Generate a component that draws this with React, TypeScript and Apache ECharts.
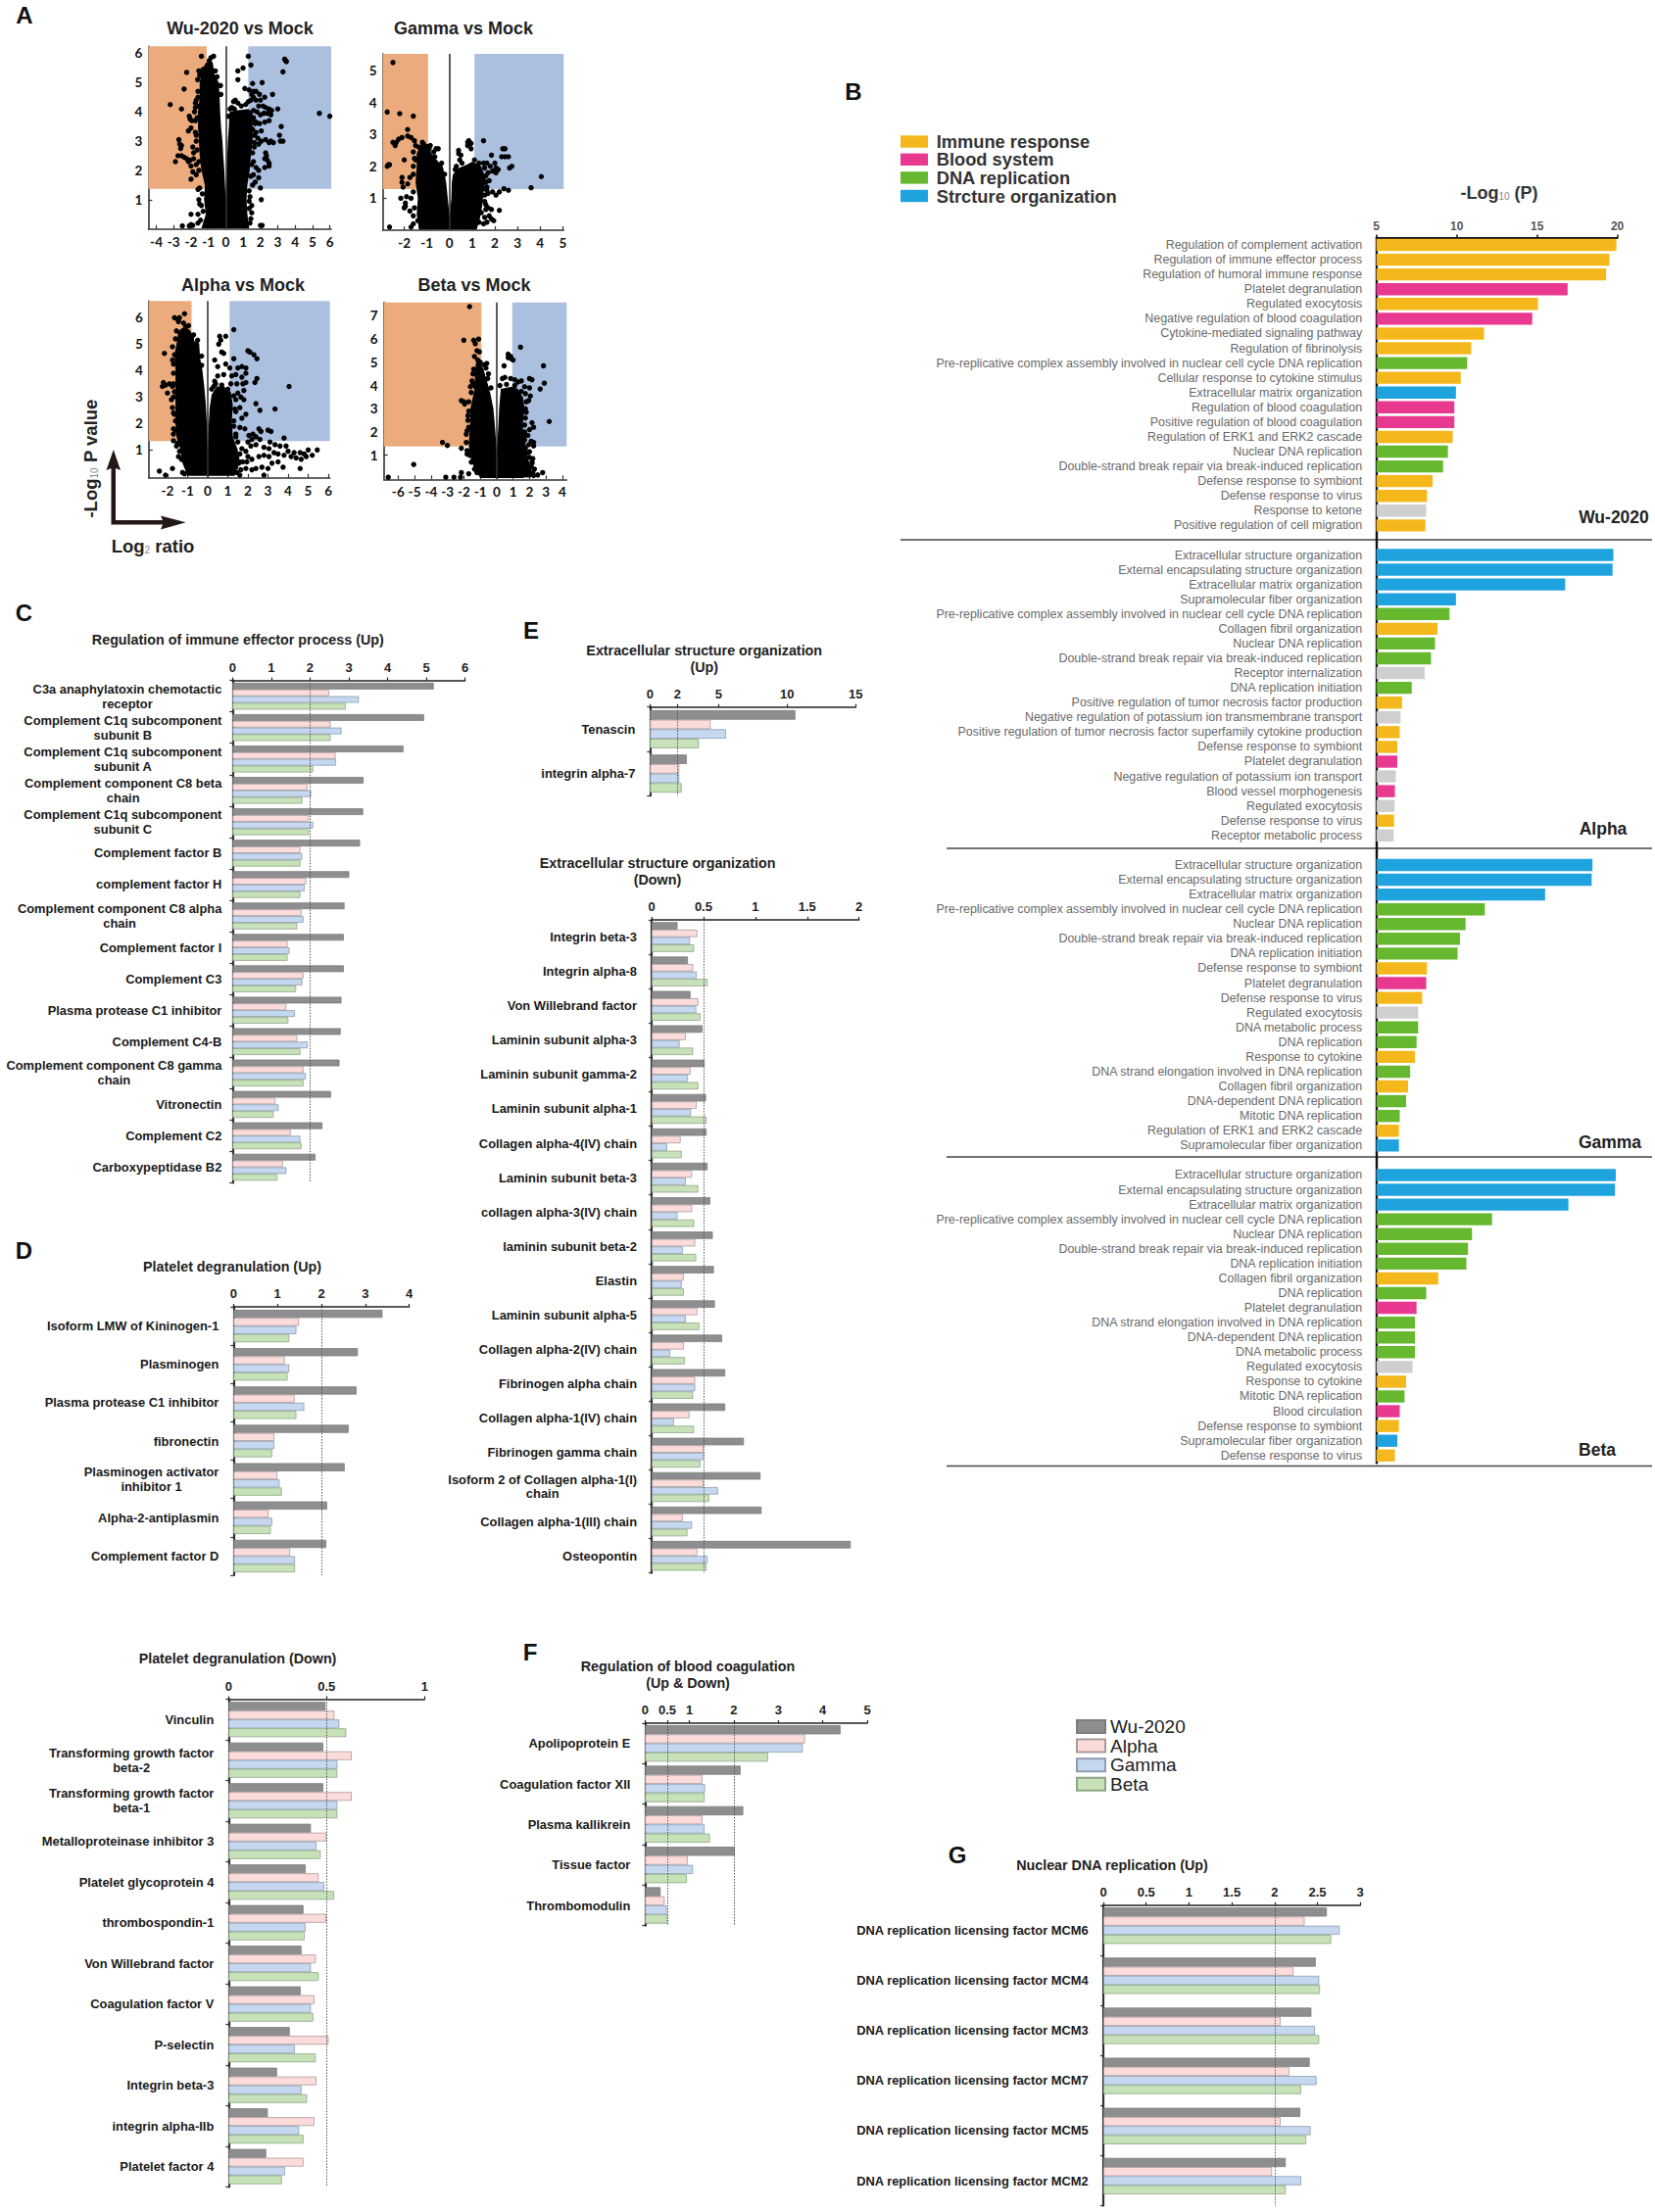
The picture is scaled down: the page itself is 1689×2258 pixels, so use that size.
import React, { useEffect, useRef } from "react";
import * as echarts from "echarts";

type Pt = [number, number];

// ---------- Panel A: dense saturated core outlines and individually read dots ----------
const wuCore: Pt[] = [[-1.4,0.02],[-1.15,0.5],[-1.25,1.0],[-1.2,1.5],[-1.4,2],[-1.5,2.5],[-1.55,3],[-1.6,3.5],[-1.6,4],[-1.5,4.5],[-1.5,5],[-1.35,5.5],[-1.0,5.75],[-0.75,5.7],[-0.65,5.3],[-0.4,5],[-0.35,4.5],[-0.32,4],[-0.27,3.5],[-0.19,3],[-0.14,2.5],[-0.08,2],[0,1],[0.03,1.5],[0.06,2],[0.12,3],[0.18,3.5],[0.22,4],[0.6,4.05],[1.3,4.1],[1.55,4.0],[1.55,3.4],[1.55,3],[1.45,2.5],[1.38,2],[1.25,1.5],[1.2,1],[1.25,0.5],[1.35,0.02]];
const wuRim: Pt[] = [[-1.35,1.2],[-1.3,0.6],[-1.55,2.3],[-1.65,2.7],[-1.7,3.2],[-1.75,3.7],[-1.75,4.3],[-1.6,4.7],[-1.62,5.1],[-1.5,5.25],[-0.6,5.4],[-0.5,5.2],[-0.3,4.9],[-0.28,4.6],[1.6,3.8],[1.7,3.6],[1.65,3.2],[1.65,2.8],[1.55,2.6],[1.5,2.2],[1.45,1.8],[1.35,1.3],[1.35,0.95],[1.35,0.7],[1.4,0.2],[0.35,4.15],[0.5,4.1],[0.9,4.2],[1.15,4.25],[0.15,3.85],[0.25,4.1]];
const wuDots: Pt[] = [[3.4,5.8],[3.45,5.75],[3.5,5.72],[3.3,5.37],[5.4,3.95],[6.0,3.85],[-3.2,4.25],[-2.55,4.1],[-2.25,5.35],[-2.4,4.78],[-1.4,5.9],[-0.7,5.9],[1.3,5.9],[1.45,5.6],[0.7,5.4],[1.0,5.5],[0.7,5.1],[1.55,4.97],[2.1,5.0],[2.7,4.6],[3.0,4.1],[3.2,3.5],[3.15,3.0],[3.3,3.0],[3.1,3.2],[2.75,2.95],[2.6,3.0],[0.45,4.35],[0.55,4.4],[0.7,4.3],
[1.1,4.8],[1.35,4.75],[1.5,4.6],[1.6,4.7],[1.75,4.7],[1.95,4.6],[1.6,4.5],[1.75,4.4],[2.0,4.4],[2.25,4.5],[1.45,4.4],[1.3,4.35],[1.9,4.2],[2.15,4.2],[2.3,4.15],[2.5,4.1],[2.65,4.05],[2.6,3.9],[2.4,3.95],[2.2,3.95],[2.0,3.9],[1.8,4.0],[1.6,4.05],[2.5,3.7],[2.25,3.65],[1.95,3.6],[1.75,3.65],[1.55,3.75],[2.05,3.35],[1.75,3.3],[1.55,3.4],[1.85,3.1],[2.05,3.0],[1.9,2.9],[1.65,2.95],[2.5,2.95],[2.3,3.05],
[2.3,2.6],[2.35,2.5],[2.4,2.35],[2.25,2.4],[2.5,2.25],[2.5,2.15],[2.25,2.1],[1.9,2.0],[1.75,2.1],[1.6,2.3],[1.6,1.85],[1.9,1.75],[1.7,1.6],[1.55,1.5],[2.0,1.4],[2.05,1.0],[1.4,1.1],[1.5,0.8],[1.5,0.55],[2.0,0.12],[2.1,0.12],[1.45,0.35],
[-1.55,5.4],[-1.45,5.3],[-1.3,5.45],[-1.6,4.5],[-1.7,4.4],[-1.55,4.2],[-1.75,4.15],[-1.8,4.0],[-1.65,3.8],[-2.1,3.85],[-2.05,3.75],[-1.95,3.7],[-2.0,3.45],[-2.15,3.35],[-1.75,3.3],[-2.7,3.05],[-2.65,2.9],[-2.6,2.75],[-2.55,2.85],[-1.7,3.0],[-1.9,2.8],[-1.85,2.6],[-2.9,2.3],[-2.75,2.5],[-2.55,2.5],[-2.4,2.45],[-2.25,2.4],[-2.15,2.3],[-2.05,2.35],[-2.0,2.15],[-1.85,2.4],[-1.7,2.2],[-1.9,1.95],[-1.7,1.85],[-1.55,2.0],[-2.0,1.7],[-1.6,1.35],[-1.5,1.4],[-1.55,1.0],[-1.5,0.85],[-1.4,0.8],[-1.6,0.5],[-2.0,0.5],[-1.45,0.3],[-1.6,0.2],[-2.5,0.1],[-2.1,0.1],[-2.0,0.15],[-1.9,0.12],[-1.05,5.6],[-0.95,5.75],[-0.85,5.85]];

const gammaCore: Pt[] = [[-1.35,0.02],[-1.45,0.5],[-1.4,1],[-1.5,1.5],[-1.45,2],[-1.45,2.4],[-1.25,2.7],[-0.95,2.7],[-0.8,2.4],[-0.5,2.15],[-0.3,2],[-0.15,1.5],[-0.08,1],[0,0.45],[0.08,1],[0.1,1.5],[0.15,1.75],[0.4,1.95],[0.75,2.05],[1.0,2.15],[1.4,2.0],[1.6,1.6],[1.5,1.2],[1.45,0.8],[1.35,0.4],[1.2,0.02]];
const gammaRim: Pt[] = [[-1.55,0.7],[-1.6,1.2],[-1.6,1.75],[-1.55,2.25],[-1.35,2.6],[-1.2,2.75],[-0.9,2.55],[-0.65,2.3],[-0.35,2.1],[-0.22,1.75],[0.25,1.9],[0.55,2.1],[1.1,2.2],[1.3,2.1],[1.55,1.95],[1.65,1.25],[1.55,1.1],[1.6,0.8],[1.4,0.55],[1.3,0.25],[-1.4,0.3],[-1.25,0.1],[0.3,2.0]];
const gammaDots: Pt[] = [[-2.5,5.25],[-2.75,3.7],[-2.2,3.65],[-1.6,3.57],[-1.85,3.15],[-2.1,2.9],[-2.25,2.85],[-1.85,2.95],[-1.7,2.9],[-2.35,2.75],[-2.5,2.75],[-2.4,2.65],[-1.55,2.8],[-1.5,2.65],[-1.15,2.7],[-0.85,2.65],[-0.6,2.55],[-0.5,2.55],[-0.7,2.45],[-2.65,2.05],[-2.7,2.05],[-2.75,2.0],[-2.0,2.2],[-1.6,2.45],[-1.5,2.2],[-1.6,2.0],[-2.1,1.65],[-2.1,1.5],[-1.75,1.65],[-1.85,1.45],[-2.05,1.35],[-2.15,1.0],[-1.9,1.05],[-1.7,1.0],[-1.95,0.75],[-2.0,0.7],[-1.75,0.6],[-1.6,0.45],[-1.95,0.85],[-1.6,0.2],[-2.65,0.1],[-1.7,0.1],
[0.4,2.5],[0.4,2.4],[0.45,2.2],[0.5,2.35],[0.85,2.8],[0.8,2.65],[0.95,2.55],[0.95,2.72],[0.8,2.75],[1.5,2.8],[1.85,2.35],[2.35,2.55],[2.45,2.55],[2.3,2.3],[2.45,2.3],[2.6,2.3],[2.75,2.0],[2.65,1.95],[1.5,2.1],[1.65,2.1],[1.8,2.0],[2.0,2.1],[2.05,1.95],[2.15,1.9],[2.05,1.8],[1.9,1.85],[1.7,1.8],[1.6,1.7],[1.6,1.5],[1.75,1.55],[1.5,1.3],[1.65,1.35],[1.7,1.15],[1.9,1.2],[2.05,1.1],[2.2,1.2],[2.4,1.3],[2.6,1.25],[3.6,1.33],[4.05,1.68],[2.2,0.62],[1.55,0.9],[1.6,0.65],[1.7,0.7],[1.85,0.65],[1.55,0.4],[1.75,0.45],[1.85,0.35],[1.95,0.3],[1.65,0.25],[1.5,0.2]];

const alphaCore: Pt[] = [[-1.0,0.02],[-1.3,0.6],[-1.35,1],[-1.55,1.5],[-1.6,2],[-1.6,3],[-1.6,4],[-1.65,4.6],[-1.55,5],[-1.45,5.5],[-1.1,5.65],[-0.85,5.5],[-0.65,5.1],[-0.42,5],[-0.38,4.5],[-0.26,4],[-0.17,3.4],[-0.1,2.8],[-0.04,2],[0,1],[0.04,1.8],[0.1,2.6],[0.2,3.1],[0.45,3.4],[0.8,3.4],[1.15,3.2],[1.25,2.7],[1.2,2.1],[1.25,1.5],[1.5,1.0],[1.5,0.6],[1.35,0.02]];
const alphaRim: Pt[] = [[-1.45,0.75],[-1.55,1.15],[-1.7,1.8],[-1.7,2.4],[-1.7,3],[-1.75,3.4],[-1.7,3.9],[-1.75,4.4],[-1.6,5.2],[-1.55,5.5],[-1.2,5.8],[-0.8,5.2],[-0.5,5.15],[-0.3,4.55],[-0.3,4.2],[0.2,3.3],[0.4,3.5],[0.7,3.45],[1.0,3.3],[1.3,3.05],[1.35,2.55],[1.3,1.9],[1.4,1.5],[1.6,0.85],[1.6,0.55],[1.45,0.15]];
const alphaDots: Pt[] = [[-1.65,6.0],[-1.5,5.95],[-1.4,6.0],[-1.15,6.15],[-1.45,5.85],[-1.1,5.65],[-0.95,5.7],[-1.35,5.4],[-1.25,5.5],[-0.7,5.35],[-0.55,5.0],[-2.15,4.65],[-1.75,4.9],[-1.65,4.6],[-1.7,4.25],[-2.2,3.55],[-2.25,3.4],[-2.1,3.45],[-1.9,3.5],[-2.0,3.15],[-1.7,3.5],[-1.65,3.2],[-1.8,2.9],[-1.75,2.6],[-1.65,2.35],[-1.6,2.1],[-1.6,1.75],[-1.7,1.6],[-1.7,1.35],[-1.5,1.25],[-1.4,0.95],[-1.3,0.65],[-2.4,0.2],[-2.1,0.05],[-1.75,0.3],[-1.25,0.15],[-1.15,0.1],[-0.95,0.2],
[0.6,5.3],[0.9,5.3],[0.65,5.15],[0.55,5.0],[0.7,4.7],[0.8,4.65],[0.35,4.4],[0.5,4.15],[0.9,4.25],[1.1,4.1],[1.3,5.55],[1.3,4.45],[2.0,4.75],[2.1,4.7],[2.3,4.6],[2.45,4.45],[1.5,4.1],[1.7,4.15],[1.9,4.1],[1.9,3.9],[1.7,3.75],[1.4,3.85],[1.2,3.8],[0.8,3.85],[0.5,3.8],[0.35,3.6],[0.3,3.4],[1.15,3.5],[1.45,3.5],[1.75,3.5],[1.9,3.55],[1.8,3.25],[1.5,3.15],[1.4,2.9],[1.65,3.0],[1.8,2.9],[1.6,2.6],[1.9,2.35],[1.7,2.2],[1.4,2.45],[1.3,2.1],[1.6,1.85],[1.85,1.8],[1.4,1.6],[2.35,3.55],[2.45,3.7],[2.4,2.75],[2.6,2.5],[3.35,2.55],[4.05,3.4],
[2.05,1.55],[2.25,1.6],[2.55,1.8],[2.65,1.7],[3.0,1.75],[3.15,1.7],[3.8,1.45],[2.2,1.4],[2.4,1.5],[2.0,1.3],[2.15,1.15],[2.4,1.2],[2.6,1.4],[3.1,1.3],[3.35,1.2],[3.6,1.15],[3.9,1.15],[4.0,0.95],[4.3,0.9],[4.6,0.9],[5.0,1.0],[5.45,1.0],[4.8,0.85],[5.2,0.8],[2.8,1.1],[3.05,1.05],[1.5,1.3],[1.7,1.05],[1.9,0.95],[2.0,0.75],[1.45,0.7],[1.55,0.5],[1.75,0.55],[1.95,0.55],[2.2,0.65],[2.55,0.75],[2.8,0.8],[3.05,0.75],[3.3,0.9],[3.5,0.85],[3.2,0.5],[3.5,0.55],[3.8,0.8],[4.15,0.75],[4.4,0.7],[4.65,0.65],[4.9,0.75],[4.6,0.3],[3.75,0.35],[3.0,0.3],[2.7,0.35],[2.4,0.3],[2.2,0.25],[1.9,0.3],[1.65,0.25],[1.4,0.35],[1.6,0.05],[2.8,0.05]];

const betaCore: Pt[] = [[-1.0,0.02],[-1.4,0.5],[-1.65,1],[-1.7,1.5],[-1.65,2],[-1.6,2.5],[-1.6,3],[-1.45,3.5],[-1.3,4],[-1.35,4.5],[-1.25,5],[-1,5.05],[-0.8,4.7],[-0.6,4.2],[-0.4,3.7],[-0.2,3],[-0.1,2.2],[0,1.2],[0.08,2],[0.15,3],[0.25,3.85],[0.9,3.95],[1.3,3.85],[1.6,3.5],[1.7,3],[1.6,2.4],[1.6,2],[1.75,1.5],[1.85,1],[2.05,0.5],[2.2,0.15],[1.6,0.02]];
const betaRim: Pt[] = [[-1.55,0.7],[-1.8,1.05],[-1.85,1.55],[-1.8,2.05],[-1.75,2.7],[-1.7,3.3],[-1.55,3.7],[-1.45,4.1],[-1.4,4.7],[-0.75,4.9],[-0.55,4.3],[-0.35,3.9],[0.2,4.0],[0.6,4.05],[1.1,4.0],[1.5,3.75],[1.8,3.3],[1.8,2.85],[1.7,2.3],[1.75,1.85],[1.95,1.45],[2.0,1.15],[2.15,0.65],[2.3,0.4],[-1.2,0.25],[1.85,0.15]];
const betaDots: Pt[] = [[-1.65,7.4],[-2.0,5.95],[-1.4,5.95],[-1.1,6.0],[-1.3,5.8],[-1.2,5.5],[-1.05,5.45],[-1.35,5.25],[-1.15,5.1],[-1.0,5.0],[-0.6,4.95],[-0.5,4.5],[-0.65,4.75],[-1.45,4.5],[-1.5,4.2],[-1.6,3.95],[-1.3,3.95],[-2.15,3.35],[-2.0,3.3],[-1.95,3.2],[-1.7,2.9],[-1.75,2.5],[-1.7,2.2],[-1.85,1.9],[-3.3,1.55],[-3.0,1.42],[-2.15,1.3],[-1.8,1.2],[-1.65,1.0],[-5.05,0.6],[-6.6,0.05],[-2.6,0.05],[-3.1,0.05],[-2.15,0.25],[-2.2,0.05],[-1.7,0.2],[-1.35,0.4],
[0.45,4.85],[0.7,5.35],[0.85,5.25],[0.9,5.15],[1.0,5.1],[0.7,5.2],[1.45,5.65],[2.85,4.85],[2.9,4.1],[2.65,3.85],[3.2,2.45],[0.35,4.3],[0.5,4.35],[0.85,4.3],[1.1,4.25],[1.3,4.15],[1.5,4.2],[2.0,4.3],[2.15,4.25],[1.7,3.95],[2.0,3.9],[1.75,3.65],[2.05,3.55],[1.95,3.35],[1.75,3.0],[1.75,2.6],[2.15,2.4],[2.25,2.2],[1.7,2.0],[1.9,1.85],[2.0,2.1],[1.7,1.65],[2.1,1.6],[2.25,1.55],[2.25,1.4],[1.75,1.3],[1.9,1.1],[2.0,0.9],[2.2,0.85],[2.15,0.7],[2.1,0.5],[2.2,0.25],[2.5,0.15],[2.25,0.12],[2.0,0.15],[2.8,0.25],[1.8,0.7],[1.8,0.45]];

// ---------- Panel B ----------
const Y = "#F5B81C", P = "#E8388F", G = "#66B82E", B = "#1FA3DF", N = "#CFCFCF";
const wuTerms = ["Regulation of complement activation","Regulation of immune effector process","Regulation of humoral immune response","Platelet degranulation","Regulated exocytosis","Negative regulation of blood coagulation","Cytokine-mediated signaling pathway","Regulation of fibrinolysis","Pre-replicative complex assembly involved in nuclear cell cycle DNA replication","Cellular response to cytokine stimulus","Extracellular matrix organization","Regulation of blood coagulation","Positive regulation of blood coagulation","Regulation of ERK1 and ERK2 cascade","Nuclear DNA replication","Double-strand break repair via break-induced replication","Defense response to symbiont","Defense response to virus","Response to ketone","Positive regulation of cell migration"];
const wuP = [19.94,19.5,19.3,16.9,15.05,14.7,11.7,10.9,10.65,10.25,9.95,9.85,9.85,9.75,9.45,9.15,8.5,8.15,8.1,8.05];
const wuC = [Y,Y,Y,P,Y,P,Y,Y,G,Y,B,P,P,Y,G,G,Y,Y,N,Y];
const alphaTerms = ["Extracellular structure organization","External encapsulating structure organization","Extracellular matrix organization","Supramolecular fiber organization","Pre-replicative complex assembly involved in nuclear cell cycle DNA replication","Collagen fibril organization","Nuclear DNA replication","Double-strand break repair via break-induced replication","Receptor internalization","DNA replication initiation","Positive regulation of tumor necrosis factor production","Negative regulation of potassium ion transmembrane transport","Positive regulation of tumor necrosis factor superfamily cytokine production","Defense response to symbiont","Platelet degranulation","Negative regulation of potassium ion transport","Blood vessel morphogenesis","Regulated exocytosis","Defense response to virus","Receptor metabolic process"];
const alphaP = [19.75,19.7,16.75,9.95,9.55,8.8,8.65,8.4,8.0,7.2,6.6,6.5,6.45,6.3,6.3,6.2,6.15,6.13,6.1,6.07];
const alphaC = [B,B,B,B,G,Y,G,G,N,G,Y,N,Y,Y,P,N,P,N,Y,N];
const gammaTerms = ["Extracellular structure organization","External encapsulating structure organization","Extracellular matrix organization","Pre-replicative complex assembly involved in nuclear cell cycle DNA replication","Nuclear DNA replication","Double-strand break repair via break-induced replication","DNA replication initiation","Defense response to symbiont","Platelet degranulation","Defense response to virus","Regulated exocytosis","DNA metabolic process","DNA replication","Response to cytokine","DNA strand elongation involved in DNA replication","Collagen fibril organization","DNA-dependent DNA replication","Mitotic DNA replication","Regulation of ERK1 and ERK2 cascade","Supramolecular fiber organization"];
const gammaP = [18.45,18.4,15.5,11.75,10.55,10.2,10.05,8.15,8.1,7.85,7.6,7.6,7.5,7.4,7.1,6.97,6.85,6.45,6.4,6.4];
const gammaC = [B,B,B,G,G,G,G,Y,P,Y,N,G,G,Y,G,Y,G,G,Y,B];
const betaTerms = ["Extracellular structure organization","External encapsulating structure organization","Extracellular matrix organization","Pre-replicative complex assembly involved in nuclear cell cycle DNA replication","Nuclear DNA replication","Double-strand break repair via break-induced replication","DNA replication initiation","Collagen fibril organization","DNA replication","Platelet degranulation","DNA strand elongation involved in DNA replication","DNA-dependent DNA replication","DNA metabolic process","Regulated exocytosis","Response to cytokine","Mitotic DNA replication","Blood circulation","Defense response to symbiont","Supramolecular fiber organization","Defense response to virus"];
const betaP = [19.9,19.85,16.95,12.2,10.95,10.7,10.6,8.85,8.1,7.5,7.4,7.4,7.4,7.25,6.85,6.75,6.45,6.4,6.3,6.15];
const betaC = [B,B,B,G,G,G,G,Y,G,P,G,G,G,N,Y,G,P,Y,B,Y];

// ---------- Panels C-G: each row is [Wu-2020, Alpha, Gamma, Beta] ----------
const variantNames = ["Wu-2020","Alpha","Gamma","Beta"];
const cLabels = ["C3a anaphylatoxin chemotactic\nreceptor","Complement C1q subcomponent\nsubunit B","Complement C1q subcomponent\nsubunit A","Complement component C8 beta\nchain","Complement C1q subcomponent\nsubunit C","Complement factor B","complement factor H","Complement component C8 alpha\nchain","Complement factor I","Complement C3","Plasma protease C1 inhibitor","Complement C4-B","Complement component C8 gamma\nchain","Vitronectin","Complement C2","Carboxypeptidase B2"];
const cRows = [[5.19,2.49,3.26,2.92],[4.94,2.53,2.81,2.53],[4.41,2.66,2.67,2.08],[3.38,1.94,2.03,1.80],[3.37,1.97,2.08,1.97],[3.29,1.75,1.80,1.75],[3.01,1.90,1.86,1.75],[2.89,1.78,1.83,1.67],[2.87,1.42,1.47,1.42],[2.87,1.83,1.80,1.64],[2.81,1.39,1.61,1.44],[2.79,1.67,1.94,1.75],[2.76,1.83,1.89,1.83],[2.54,1.11,1.19,1.06],[2.32,1.50,1.75,1.78],[2.14,1.30,1.39,1.16]];
const dUpLabels = ["Isoform LMW of Kininogen-1","Plasminogen","Plasma protease C1 inhibitor","fibronectin","Plasminogen activator\ninhibitor 1","Alpha-2-antiplasmin","Complement factor D"];
const dUpRows = [[3.39,1.49,1.43,1.27],[2.83,1.17,1.27,1.23],[2.80,1.39,1.61,1.43],[2.62,0.93,0.93,0.88],[2.53,1.00,1.05,1.10],[2.13,0.80,0.88,0.85],[2.11,1.29,1.40,1.40]];
const dDownLabels = ["Vinculin","Transforming growth factor\nbeta-2","Transforming growth factor\nbeta-1","Metalloproteinase inhibitor 3","Platelet glycoprotein 4","thrombospondin-1","Von Willebrand factor","Coagulation factor V","P-selectin","Integrin beta-3","integrin alpha-IIb","Platelet factor 4"];
const dDownRows = [[0.495,0.54,0.565,0.60],[0.483,0.628,0.555,0.555],[0.483,0.628,0.555,0.555],[0.42,0.50,0.448,0.47],[0.393,0.46,0.488,0.538],[0.382,0.498,0.393,0.388],[0.372,0.445,0.42,0.46],[0.368,0.438,0.42,0.432],[0.312,0.51,0.338,0.445],[0.247,0.448,0.372,0.40],[0.20,0.438,0.36,0.382],[0.192,0.382,0.288,0.272]];
const eUpLabels = ["Tenascin","integrin alpha-7"];
const eUpRows = [[10.6,4.43,5.55,3.57],[2.69,2.14,2.14,2.31]];
const eDownLabels = ["Integrin beta-3","Integrin alpha-8","Von Willebrand factor","Laminin subunit alpha-3","Laminin subunit gamma-2","Laminin subunit alpha-1","Collagen alpha-4(IV) chain","Laminin subunit beta-3","collagen alpha-3(IV) chain","laminin subunit beta-2","Elastin","Laminin subunit alpha-5","Collagen alpha-2(IV) chain","Fibrinogen alpha chain","Collagen alpha-1(IV) chain","Fibrinogen gamma chain","Isoform 2 of Collagen alpha-1(I)\nchain","Collagen alpha-1(III) chain","Osteopontin"];
const eDownRows = [[0.25,0.44,0.37,0.41],[0.35,0.40,0.435,0.54],[0.375,0.45,0.43,0.47],[0.49,0.33,0.27,0.40],[0.51,0.375,0.35,0.45],[0.525,0.435,0.38,0.53],[0.53,0.28,0.15,0.29],[0.54,0.39,0.33,0.45],[0.565,0.39,0.25,0.41],[0.59,0.42,0.30,0.43],[0.60,0.31,0.29,0.31],[0.61,0.44,0.33,0.46],[0.68,0.31,0.18,0.32],[0.71,0.42,0.42,0.40],[0.71,0.365,0.215,0.41],[0.89,0.50,0.505,0.47],[1.05,0.50,0.64,0.555],[1.06,0.30,0.39,0.345],[1.92,0.44,0.54,0.53]];
const fLabels = ["Apolipoprotein E","Coagulation factor XII","Plasma kallikrein","Tissue factor","Thrombomodulin"];
const fRows = [[4.40,3.60,3.55,2.77],[2.15,1.29,1.35,1.34],[2.21,1.29,1.34,1.46],[2.02,0.96,1.08,0.94],[0.35,0.44,0.49,0.51]];
const gLabels = ["MCM6","MCM4","MCM3","MCM7","MCM5","MCM2"].map((m) => "DNA replication licensing factor " + m);
const gRows = [[2.61,2.35,2.76,2.66],[2.48,2.22,2.52,2.53],[2.43,2.07,2.47,2.52],[2.41,2.17,2.49,2.31],[2.30,2.07,2.42,2.37],[2.13,1.97,2.31,2.13]];

const SANS = '"Liberation Sans", Arial, sans-serif';
const INK = "#222222";
const variantFill = ["#8E8E90", "#FBDCDA", "#C5D8F0", "#C7E2B9"];
const variantEdge = ["#7C7C7E", "#A99A9A", "#8E9CB0", "#8FA488"];

function buildOption() {
  const grid: any[] = [], xAxis: any[] = [], yAxis: any[] = [], series: any[] = [], graphic: any[] = [];

  const text = (t: string, x: number, y: number, font: string, extra: any = {}) =>
    graphic.push({
      type: "text", x, y, rotation: extra.rotation || 0, silent: true,
      style: { text: t, font, fill: extra.fill || INK, align: extra.align || "center", textAlign: extra.align || "center", verticalAlign: "middle", textVerticalAlign: "middle", rich: extra.rich },
    });

  // ---- volcano plots ----
  const volcano = (c: any) => {
    const i = grid.length;
    grid.push({ left: c.l, top: c.t, width: c.r - c.l, height: c.b - c.t });
    xAxis.push({
      gridIndex: i, type: "value", min: c.x0, max: c.x1, splitLine: { show: false },
      axisLine: { show: true, onZero: false, lineStyle: { color: "#333", width: 1.6 } },
      axisTick: { show: true, inside: true, length: 4, customValues: c.xTicks, lineStyle: { color: "#333", width: 1.2 } },
      axisLabel: { customValues: c.xTicks, margin: 6, fontFamily: "Lato", fontWeight: "bold", fontSize: 13.5, color: "#111", formatter: (v: number) => String(v) },
    });
    yAxis.push({
      gridIndex: i, type: "value", min: c.y0, max: c.y1, splitLine: { show: false },
      axisLine: { show: true, onZero: false, lineStyle: { color: "#333", width: 1.6 } },
      axisTick: { show: true, inside: true, length: 4, customValues: c.yTicks, lineStyle: { color: "#333", width: 1.2 } },
      axisLabel: { customValues: c.yTicks, margin: 6, fontFamily: "Lato", fontWeight: "bold", fontSize: 13.5, color: "#111", formatter: (v: number) => String(v) },
    });
    series.push({
      type: "scatter", xAxisIndex: i, yAxisIndex: i, data: [], z: 1, silent: true,
      markArea: {
        silent: true,
        data: [
          [{ xAxis: c.x0, yAxis: c.thrY, itemStyle: { color: "#EBAB7C", opacity: 1 } }, { xAxis: c.thrL, yAxis: c.y1 }],
          [{ xAxis: c.thrR, yAxis: c.thrY, itemStyle: { color: "#ABBFDF", opacity: 1 } }, { xAxis: c.x1, yAxis: c.y1 }],
        ],
      },
    });
    series.push({
      type: "custom", xAxisIndex: i, yAxisIndex: i, data: c.core, z: 2, silent: true,
      renderItem: (p: any, api: any) =>
        p.dataIndex === 0
          ? { type: "polygon", shape: { points: c.core.map((q: Pt) => api.coord(q)) }, style: { fill: "#000" } }
          : null,
    });
    series.push({
      type: "scatter", xAxisIndex: i, yAxisIndex: i, data: c.dots, z: 3, silent: true,
      symbolSize: 5.4, itemStyle: { color: "#000", opacity: 1 },
      markLine: { silent: true, symbol: "none", label: { show: false }, lineStyle: { color: "#333", width: 1.6, type: "solid" }, data: [{ xAxis: 0 }] },
    });
    text(c.title, c.tx, c.ty, `bold 18px ${SANS}`);
  };
  volcano({ title: "Wu-2020 vs Mock", tx: 245, ty: 29, l: 151.4, r: 338, t: 47.3, b: 233.7, x0: -4.46, x1: 6.08, y0: 0, y1: 6.24, thrL: -1.1, thrR: 1.3, thrY: 1.37, xTicks: [-4,-3,-2,-1,0,1,2,3,4,5,6], yTicks: [1,2,3,4,5,6], core: wuCore, dots: [...wuDots, ...wuRim] });
  volcano({ title: "Gamma vs Mock", tx: 473, ty: 29, l: 390.6, r: 575.3, t: 55, b: 235, x0: -2.95, x1: 5.04, y0: 0, y1: 5.52, thrL: -0.95, thrR: 1.1, thrY: 1.29, xTicks: [-2,-1,0,1,2,3,4,5], yTicks: [1,2,3,4,5], core: gammaCore, dots: [...gammaDots, ...gammaRim] });
  volcano({ title: "Alpha vs Mock", tx: 248, ty: 291, l: 151.8, r: 336.7, t: 307.3, b: 487.7, x0: -2.93, x1: 6.08, y0: -0.05, y1: 6.63, thrL: -0.8, thrR: 1.09, thrY: 1.34, xTicks: [-2,-1,0,1,2,3,4,5,6], yTicks: [1,2,3,4,5,6], core: alphaCore, dots: [...alphaDots, ...alphaRim] });
  volcano({ title: "Beta vs Mock", tx: 484, ty: 291, l: 391.7, r: 578.3, t: 308.7, b: 489.3, x0: -6.87, x1: 4.26, y0: -0.04, y1: 7.58, thrL: -0.93, thrR: 0.95, thrY: 1.38, xTicks: [-6,-5,-4,-3,-2,-1,0,1,2,3,4], yTicks: [1,2,3,4,5,6,7], core: betaCore, dots: [...betaDots, ...betaRim] });

  // arrows under panel A
  graphic.push({ type: "polygon", silent: true, shape: { points: [[113.5,535.5],[113.5,478],[108.5,480],[115.8,459],[123,480],[118,478],[118,531],[166,531],[164,526.5],[189.7,533.3],[164,540.5],[166,535.5]] }, style: { fill: "#231815" } });
  const axRich = { a: { font: `bold 18.5px ${SANS}`, fill: "#222" }, s: { font: `10px ${SANS}`, fill: "#888", verticalAlign: "bottom", padding: [7,0,0,0] } };
  text("{a|-Log}{s|10}{a| P value}", 92, 468, `bold 18.5px ${SANS}`, { rotation: Math.PI / 2, rich: axRich });
  text("{a|Log}{s|2}{a| ratio}", 156, 557, `bold 18.5px ${SANS}`, { rich: axRich });

  // ---- panel B ----
  const spacer = [""];
  const bTerms = [...wuTerms, ...spacer, ...alphaTerms, ...spacer, ...gammaTerms, ...spacer, ...betaTerms];
  const toBars = (vals: number[], cols: string[]) => vals.map((value, k) => ({ value, itemStyle: { color: cols[k] } }));
  const bData = [...toBars(wuP, wuC), null, ...toBars(alphaP, alphaC), null, ...toBars(gammaP, gammaC), null, ...toBars(betaP, betaC)];
  {
    const i = grid.length;
    grid.push({ left: 1404.7, top: 242.5, width: 245.9, height: 1250.8 });
    xAxis.push({
      gridIndex: i, type: "value", position: "top", min: 5, max: 20, interval: 5, splitLine: { show: false },
      axisLine: { show: true, lineStyle: { color: "#111", width: 2 } },
      axisTick: { show: true, length: 3, lineStyle: { color: "#111", width: 1.5 } },
      axisLabel: { margin: 6, fontFamily: SANS, fontWeight: "bold", fontSize: 12, color: "#555" },
    });
    yAxis.push({
      gridIndex: i, type: "category", inverse: true, data: bTerms,
      axisLine: { show: true, lineStyle: { color: "#111", width: 2.4 } }, axisTick: { show: false },
      axisLabel: { interval: 0, margin: 14.5, fontFamily: SANS, fontSize: 12.45, color: "#6A6A6A" },
    });
    series.push({ type: "bar", xAxisIndex: i, yAxisIndex: i, barWidth: 12.4, data: bData, silent: true });
  }
  const dividers: [number, number][] = [[551.1, 919], [866, 966], [1181.1, 966], [1496.4, 966]];
  dividers.forEach(([y, x]) => graphic.push({ type: "line", silent: true, shape: { x1: x, y1: y, x2: 1686, y2: y }, style: { stroke: "#444", lineWidth: 1.5 } }));
  const pathways: [string, string, number][] = [["Immune response", Y, 144.5], ["Blood system", P, 162.8], ["DNA replication", G, 181.4], ["Strcture organization", B, 200]];
  pathways.forEach(([t, c, y]) => {
    graphic.push({ type: "rect", silent: true, shape: { x: 919, y: y - 6.2, width: 28, height: 12.4 }, style: { fill: c } });
    text(t, 955.7, y, `bold 18.3px ${SANS}`, { align: "left", fill: "#333" });
  });
  text("{a|-Log}{s|10}{a| (P)}", 1530, 196.5, `bold 18px ${SANS}`, { rich: { a: { font: `bold 18px ${SANS}`, fill: "#333" }, s: { font: `10px ${SANS}`, fill: "#888", verticalAlign: "bottom", padding: [7,0,0,0] } } });
  const corners: [string, number, number][] = [["Wu-2020", 1647, 528], ["Alpha", 1636, 845.5], ["Gamma", 1643, 1166], ["Beta", 1630, 1479.5]];
  corners.forEach(([t, x, y]) => text(t, x, y, `bold 17.5px ${SANS}`));

  // ---- grouped bar panels ----
  const barPanel = (c: any) => {
    const i = grid.length;
    grid.push({ left: c.l, top: c.t, width: c.r - c.l, height: c.b - c.t });
    xAxis.push({
      gridIndex: i, type: "value", position: "top", min: 0, max: c.max, splitLine: { show: false },
      axisLine: { show: true, lineStyle: { color: "#222", width: 1.5 } },
      axisTick: { show: true, length: 3, customValues: c.ticks, lineStyle: { color: "#222", width: 1.2 } },
      axisLabel: { customValues: c.ticks, margin: 7, fontFamily: SANS, fontWeight: "bold", fontSize: 13, color: "#222", formatter: (v: number) => String(v) },
    });
    yAxis.push({
      gridIndex: i, type: "category", inverse: true, data: c.labels,
      axisLine: { show: true, lineStyle: { color: "#333", width: 2.2 } },
      axisTick: { show: true, length: 3, lineStyle: { color: "#333", width: 1.2 } },
      axisLabel: {
        interval: 0, margin: c.margin, align: "right",
        formatter: (v: string) => v.split("\n").map((l) => `{c|${l}}`).join("\n"),
        rich: { c: { align: "center", fontFamily: SANS, fontWeight: "bold", fontSize: 12.9, lineHeight: c.lh, color: "#1A1A1A" } },
      },
    });
    variantNames.forEach((name, k) => {
      series.push({
        name, type: "bar", xAxisIndex: i, yAxisIndex: i, barWidth: c.bar, barGap: 0, silent: true,
        data: c.rows.map((r: number[]) => r[k]),
        itemStyle: { color: variantFill[k], borderColor: variantEdge[k], borderWidth: 0.8 },
        ...(k === 3
          ? { markLine: { silent: true, symbol: "none", label: { show: false }, lineStyle: { color: "#555", width: 1, type: [1.5, 1.5] }, data: c.cuts.map((v: number) => ({ xAxis: v })) } }
          : {}),
      });
    });
    if (c.pad) series.push({ name: "pad", type: "bar", xAxisIndex: i, yAxisIndex: i, barWidth: c.bar, barGap: 0, silent: true, data: c.rows.map(() => null) });
    c.titles.forEach((t: string, n: number) => text(t, c.tx, c.ty + n * 17.4, `bold 14.3px ${SANS}`));
  };
  barPanel({ labels: cLabels, rows: cRows, l: 237.3, r: 474.7, t: 694.6, b: 1207.5, max: 6, ticks: [0,1,2,3,4,5,6], cuts: [2], bar: 6.85, lh: 15, margin: 11, titles: ["Regulation of immune effector process (Up)"], tx: 242.8, ty: 653 });
  barPanel({ labels: dUpLabels, rows: dUpRows, l: 238.3, r: 417.7, t: 1334, b: 1608, max: 4, ticks: [0,1,2,3,4], cuts: [2], bar: 8.3, lh: 15, margin: 15, titles: ["Platelet degranulation (Up)"], tx: 237, ty: 1292.7 });
  barPanel({ labels: dDownLabels, rows: dDownRows, l: 233.3, r: 433.3, t: 1734.5, b: 2232.4, max: 1, ticks: [0,0.5,1], cuts: [0.5], bar: 9, lh: 15, margin: 15, titles: ["Platelet degranulation (Down)"], tx: 242.5, ty: 1692.5 });
  barPanel({ labels: eUpLabels, rows: eUpRows, l: 663.3, r: 873.3, t: 721.7, b: 812.3, max: 15, ticks: [0,2,5,10,15], cuts: [2], bar: 9.7, lh: 15, margin: 15, titles: ["Extracellular structure organization", "(Up)"], tx: 718.7, ty: 663.7 });
  barPanel({ labels: eDownLabels, rows: eDownRows, l: 665, r: 876.7, t: 939, b: 1605.7, max: 2, ticks: [0,0.5,1,1.5,2], cuts: [0.5], bar: 7.6, lh: 14, margin: 15, titles: ["Extracellular structure organization", "(Down)"], tx: 671, ty: 881 });
  barPanel({ labels: fLabels, rows: fRows, l: 658.3, r: 885, t: 1759, b: 1965.7, max: 5, ticks: [0,0.5,1,2,3,4,5], cuts: [0.5, 2], bar: 9.3, lh: 15, margin: 15, titles: ["Regulation of blood coagulation", "(Up & Down)"], tx: 702, ty: 1701 });
  barPanel({ labels: gLabels, rows: gRows, l: 1126, r: 1388.2, t: 1944.8, b: 2251.6, max: 3, ticks: [0,0.5,1,1.5,2,2.5,3], cuts: [2], bar: 9.3, pad: true, lh: 15, margin: 15, titles: ["Nuclear DNA replication (Up)"], tx: 1135, ty: 1904 });

  // panel letters
  const letters: [string, number, number][] = [["A", 25, 15], ["B", 871, 93], ["C", 24.5, 625], ["D", 24.5, 1276], ["E", 542, 643], ["F", 541, 1686], ["G", 977, 1893]];
  letters.forEach(([t, x, y]) => text(t, x, y, `bold 24px ${SANS}`, { fill: "#111" }));

  return {
    animation: false,
    backgroundColor: "#fff",
    grid, xAxis, yAxis, series, graphic,
    legend: {
      data: variantNames, left: 1093, top: 1748, orient: "vertical", icon: "rect",
      itemWidth: 29, itemHeight: 13, itemGap: 0.6, selectedMode: false,
      textStyle: { fontFamily: SANS, fontSize: 19, color: "#222", lineHeight: 18 },
    },
  };
}

export default function App() {
  const ref = useRef<HTMLDivElement>(null);
  useEffect(() => {
    const chart = echarts.init(ref.current!, undefined, { renderer: "svg" });
    chart.setOption(buildOption() as any);
    return () => chart.dispose();
  }, []);
  return <div ref={ref} style={{ position: "absolute", left: 0, top: 0, width: 1689, height: 2258 }} />;
}
